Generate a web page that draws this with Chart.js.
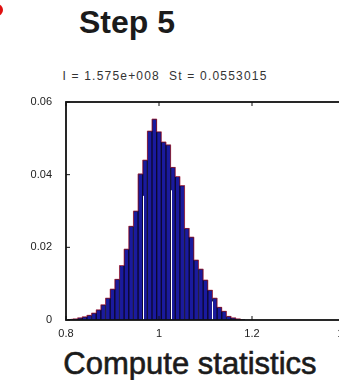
<!DOCTYPE html>
<html>
<head>
<meta charset="utf-8">
<script src="https://cdn.jsdelivr.net/npm/chart.js@4.4.0/dist/chart.umd.min.js"></script>
<style>
  html, body { margin: 0; padding: 0; background: #fff; }
  #wrap { position: relative; width: 339px; height: 380px; overflow: hidden; }
  #plot { position: absolute; left: 0; top: 0; }
  .txt { position: absolute; font-family: "Liberation Sans", Arial, sans-serif; color: #1b1b1b; white-space: nowrap; transform: translateX(-50%); line-height: 1; }
  #step { left: 127px; top: 6px; font-size: 32px; font-weight: bold; }
  #stats { left: 165px; top: 70px; font-size: 12px; letter-spacing: 1.2px; color: #333; }
  #caption { left: 190px; top: 348px; font-size: 31px; -webkit-text-stroke: 0.6px #1b1b1b; }
  #dot { position: absolute; left: -9px; top: 4px; width: 12px; height: 12px; border-radius: 50%; background: #e01010; }
</style>
</head>
<body>
<div id="wrap">
  <div id="dot"></div>
  <div class="txt" id="step">Step 5</div>
  <div class="txt" id="stats">I = 1.575e+008&nbsp; St = 0.0553015</div>
  <canvas id="plot" width="360" height="345"></canvas>
  <div class="txt" id="caption">Compute statistics</div>
</div>
<script>
// histogram: bin centres and relative frequencies
const binCenters = [
  0.81, 0.82, 0.83, 0.84, 0.85, 0.86, 0.87, 0.88, 0.89, 0.90,
  0.91, 0.92, 0.93, 0.94, 0.95, 0.96, 0.97, 0.98, 0.99, 1.00,
  1.01, 1.02, 1.03, 1.04, 1.05, 1.06, 1.07, 1.08, 1.09, 1.10,
  1.11, 1.12, 1.13, 1.14, 1.15, 1.16, 1.17, 1.18
];
const frequencies = [
  0.0002, 0.0003, 0.0006, 0.0009, 0.0013, 0.0019, 0.0028, 0.0042, 0.0060, 0.0085,
  0.0112, 0.0150, 0.0195, 0.0258, 0.0300, 0.0402, 0.0440, 0.0520, 0.0553, 0.0518,
  0.0490, 0.0482, 0.0420, 0.0395, 0.0370, 0.0252, 0.0228, 0.0165, 0.0140, 0.0110,
  0.0082, 0.0060, 0.0035, 0.0024, 0.0010, 0.0006, 0.0003, 0.0001
];
const xTicks = [0.8, 1, 1.2, 1.4];
const yTicks = [0, 0.02, 0.04, 0.06];
// bin edges where the bars show a thin white seam
const seamEdges = [0.965, 1.025, 1.115];

const histPoints = binCenters.map((c, i) => ({ x: c, y: frequencies[i] }));
const tickFont = { family: '"Liberation Sans", Arial, sans-serif', size: 11 };

// box around the axes, inward tick marks and the white seams
const framePlugin = {
  id: 'frame',
  afterDatasetsDraw(chart) {
    const { ctx, chartArea: a, scales: { x, y } } = chart;
    ctx.save();
    ctx.strokeStyle = '#ffffff';
    ctx.lineWidth = 1;
    seamEdges.forEach(edge => {
      const i = binCenters.findIndex(c => c > edge);
      const h = Math.min(frequencies[i - 1], frequencies[i]) * 0.85;
      const px = Math.round(x.getPixelForValue(edge)) + 0.5;
      ctx.beginPath();
      ctx.moveTo(px, y.getPixelForValue(0));
      ctx.lineTo(px, y.getPixelForValue(h));
      ctx.stroke();
    });

    ctx.strokeStyle = '#111';
    ctx.lineWidth = 1.8;
    ctx.strokeRect(a.left, a.top, a.right - a.left, a.bottom - a.top);
    ctx.lineWidth = 1;
    const len = 4;
    xTicks.forEach(v => {
      const px = x.getPixelForValue(v);
      ctx.beginPath();
      ctx.moveTo(px, a.bottom); ctx.lineTo(px, a.bottom - len);
      ctx.moveTo(px, a.top); ctx.lineTo(px, a.top + len);
      ctx.stroke();
    });
    yTicks.forEach(v => {
      const py = y.getPixelForValue(v);
      ctx.beginPath();
      ctx.moveTo(a.left, py); ctx.lineTo(a.left + len, py);
      ctx.moveTo(a.right, py); ctx.lineTo(a.right - len, py);
      ctx.stroke();
    });
    ctx.restore();
  }
};

new Chart(document.getElementById('plot').getContext('2d'), {
  type: 'bar',
  data: {
    datasets: [
      {
        type: 'line',
        data: histPoints,
        stepped: 'middle',
        borderColor: 'rgba(185, 40, 70, 0.7)',
        borderWidth: 1,
        pointRadius: 0,
        order: 0
      },
      {
        type: 'bar',
        data: histPoints,
        backgroundColor: '#1a1a9e',
        borderColor: '#0d0830',
        borderWidth: 1,
        borderSkipped: 'bottom',
        barPercentage: 1,
        categoryPercentage: 1,
        order: 1
      }
    ]
  },
  options: {
    responsive: false,
    animation: false,
    layout: { padding: { top: 102, right: 15, left: 0, bottom: 0 } },
    plugins: {
      legend: { display: false },
      tooltip: { enabled: false }
    },
    scales: {
      x: {
        type: 'linear',
        min: 0.8,
        max: 1.4,
        offset: false,
        grid: { display: false, drawTicks: false },
        border: { display: false },
        afterBuildTicks: s => { s.ticks = xTicks.map(v => ({ value: v })); },
        afterFit: s => { s.height = 25; },
        ticks: {
          padding: 7,
          maxRotation: 0,
          autoSkip: false,
          color: '#222',
          font: tickFont,
          callback: v => String(v)
        }
      },
      y: {
        min: 0,
        max: 0.06,
        grid: { display: false, drawTicks: false },
        border: { display: false },
        afterBuildTicks: s => { s.ticks = yTicks.map(v => ({ value: v })); },
        afterFit: s => { s.width = 66; },
        ticks: {
          padding: 14,
          color: '#222',
          font: tickFont,
          callback: v => String(v)
        }
      }
    }
  },
  plugins: [framePlugin]
});
</script>
</body>
</html>
